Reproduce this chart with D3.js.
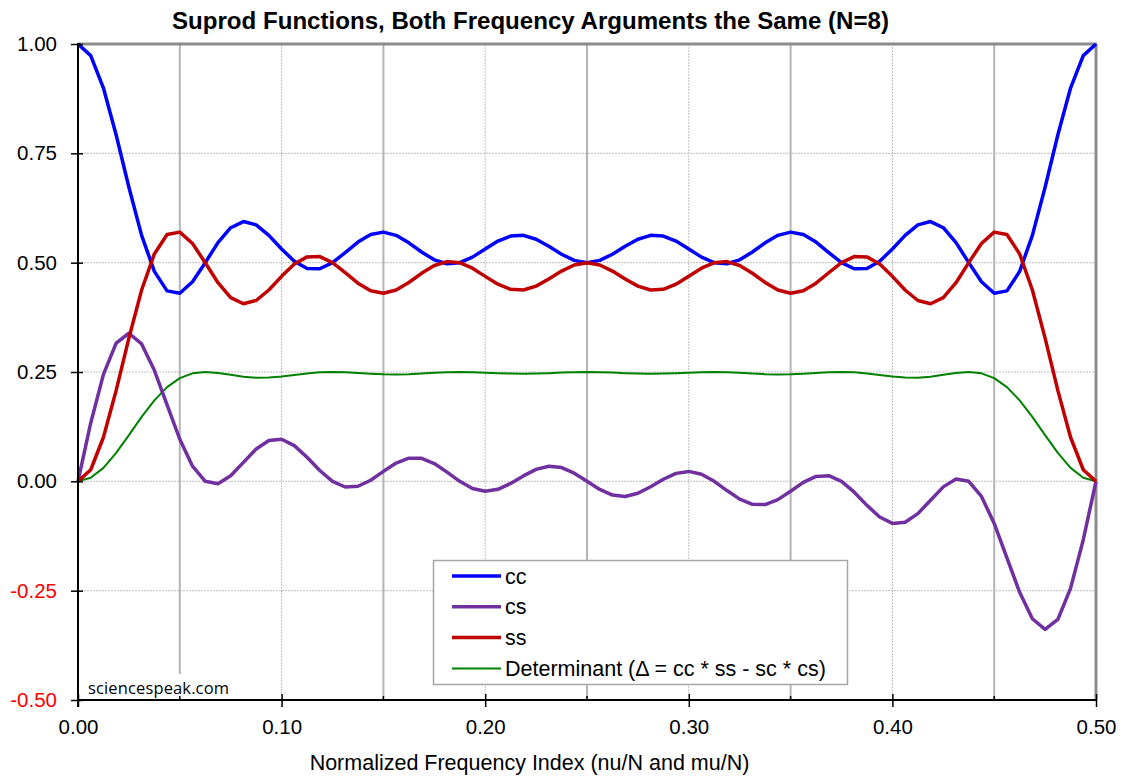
<!DOCTYPE html>
<html>
<head>
<meta charset="utf-8">
<script src="https://cdn.jsdelivr.net/npm/d3@7"></script>
<style>
body { margin: 0; background: #fff; }
svg { display: block; font-family: "Liberation Sans", Arial, sans-serif; }
</style>
</head>
<body>
<svg width="1124" height="780"></svg>
<script>
// normalized frequency index (nu/N), one point every 1/160
var freq = [0, 0.00625, 0.0125, 0.01875, 0.025, 0.03125, 0.0375, 0.04375, 0.05, 0.05625,
            0.0625, 0.06875, 0.075, 0.08125, 0.0875, 0.09375, 0.1, 0.10625, 0.1125, 0.11875,
            0.125, 0.13125, 0.1375, 0.14375, 0.15, 0.15625, 0.1625, 0.16875, 0.175, 0.18125,
            0.1875, 0.19375, 0.2, 0.20625, 0.2125, 0.21875, 0.225, 0.23125, 0.2375, 0.24375,
            0.25, 0.25625, 0.2625, 0.26875, 0.275, 0.28125, 0.2875, 0.29375, 0.3, 0.30625,
            0.3125, 0.31875, 0.325, 0.33125, 0.3375, 0.34375, 0.35, 0.35625, 0.3625, 0.36875,
            0.375, 0.38125, 0.3875, 0.39375, 0.4, 0.40625, 0.4125, 0.41875, 0.425, 0.43125,
            0.4375, 0.44375, 0.45, 0.45625, 0.4625, 0.46875, 0.475, 0.48125, 0.4875, 0.49375, 0.5]

var cc = [1.0000, 0.9735, 0.8992, 0.7920, 0.6725, 0.5625, 0.4800, 0.4355, 0.4301, 0.4562,
          0.5000, 0.5458, 0.5799, 0.5940, 0.5865, 0.5625, 0.5313, 0.5032, 0.4868, 0.4861,
          0.5000, 0.5230, 0.5470, 0.5643, 0.5699, 0.5625, 0.5453, 0.5243, 0.5065, 0.4975,
          0.5000, 0.5127, 0.5313, 0.5493, 0.5609, 0.5625, 0.5536, 0.5374, 0.5193, 0.5053,
          0.5000, 0.5053, 0.5193, 0.5374, 0.5536, 0.5625, 0.5609, 0.5493, 0.5313, 0.5127,
          0.5000, 0.4975, 0.5065, 0.5243, 0.5453, 0.5625, 0.5699, 0.5643, 0.5470, 0.5230,
          0.5000, 0.4861, 0.4868, 0.5032, 0.5313, 0.5625, 0.5865, 0.5940, 0.5799, 0.5458,
          0.5000, 0.4562, 0.4301, 0.4355, 0.4800, 0.5625, 0.6725, 0.7920, 0.8992, 0.9735, 1.0000]

var cs = [0.0000, 0.1335, 0.2447, 0.3159, 0.3386, 0.3142, 0.2538, 0.1748, 0.0962, 0.0346,
          0.0000, -0.0054, 0.0127, 0.0433, 0.0739, 0.0935, 0.0962, 0.0816, 0.0550, 0.0248,
          0.0000, -0.0129, -0.0113, 0.0025, 0.0227, 0.0418, 0.0530, 0.0526, 0.0407, 0.0211,
          0.0000, -0.0162, -0.0227, -0.0182, -0.0048, 0.0124, 0.0273, 0.0346, 0.0314, 0.0186,
          0.0000, -0.0186, -0.0314, -0.0346, -0.0273, -0.0124, 0.0048, 0.0182, 0.0227, 0.0162,
          0.0000, -0.0211, -0.0407, -0.0526, -0.0530, -0.0418, -0.0227, -0.0025, 0.0113, 0.0129,
          0.0000, -0.0248, -0.0550, -0.0816, -0.0962, -0.0935, -0.0739, -0.0433, -0.0127, 0.0054,
          0.0000, -0.0346, -0.0962, -0.1748, -0.2538, -0.3142, -0.3386, -0.3159, -0.2447, -0.1335, 0.0000]

var ss = [0.0000, 0.0265, 0.1008, 0.2080, 0.3275, 0.4375, 0.5200, 0.5645, 0.5699, 0.5438,
          0.5000, 0.4542, 0.4201, 0.4060, 0.4135, 0.4375, 0.4687, 0.4968, 0.5132, 0.5139,
          0.5000, 0.4770, 0.4530, 0.4357, 0.4301, 0.4375, 0.4547, 0.4757, 0.4935, 0.5025,
          0.5000, 0.4873, 0.4687, 0.4507, 0.4391, 0.4375, 0.4464, 0.4626, 0.4807, 0.4947,
          0.5000, 0.4947, 0.4807, 0.4626, 0.4464, 0.4375, 0.4391, 0.4507, 0.4687, 0.4873,
          0.5000, 0.5025, 0.4935, 0.4757, 0.4547, 0.4375, 0.4301, 0.4357, 0.4530, 0.4770,
          0.5000, 0.5139, 0.5132, 0.4968, 0.4687, 0.4375, 0.4135, 0.4060, 0.4201, 0.4542,
          0.5000, 0.5438, 0.5699, 0.5645, 0.5200, 0.4375, 0.3275, 0.2080, 0.1008, 0.0265, 0.0000]

var det = [0.0000, 0.0080, 0.0308, 0.0649, 0.1056, 0.1474, 0.1852, 0.2153, 0.2359, 0.2469,
           0.2500, 0.2479, 0.2435, 0.2393, 0.2371, 0.2373, 0.2398, 0.2433, 0.2468, 0.2492,
           0.2500, 0.2493, 0.2477, 0.2459, 0.2446, 0.2444, 0.2451, 0.2466, 0.2483, 0.2495,
           0.2500, 0.2496, 0.2485, 0.2472, 0.2463, 0.2459, 0.2464, 0.2474, 0.2486, 0.2496,
           0.2500, 0.2496, 0.2486, 0.2474, 0.2464, 0.2459, 0.2463, 0.2472, 0.2485, 0.2496,
           0.2500, 0.2495, 0.2483, 0.2466, 0.2451, 0.2444, 0.2446, 0.2459, 0.2477, 0.2493,
           0.2500, 0.2492, 0.2468, 0.2433, 0.2398, 0.2373, 0.2371, 0.2393, 0.2435, 0.2479,
           0.2500, 0.2469, 0.2359, 0.2153, 0.1852, 0.1474, 0.1056, 0.0649, 0.0308, 0.0080, 0.0000]

var series_names = ["cc", "cs", "ss", "Determinant (\u0394 = cc * ss - sc * cs)"]
var y_ticks = [-0.5, -0.25, 0, 0.25, 0.5, 0.75, 1]
var x_ticks = [0, 0.1, 0.2, 0.3, 0.4, 0.5]
var x_mid_ticks = [0.05, 0.15, 0.25, 0.35, 0.45]

var title = "Suprod Functions, Both Frequency Arguments the Same (N=8)"
var x_title = "Normalized Frequency Index (nu/N and mu/N)"
var credit = "sciencespeak.com"

/*********
* layout *
*********/
var plot_left = 78, plot_right = 1096, plot_top = 44, plot_bottom = 700

var x = d3.scaleLinear().domain([0, 0.5]).range([plot_left, plot_right])
var y = d3.scaleLinear().domain([-0.5, 1]).range([plot_bottom, plot_top])

var styles = [{color: "#0000ff", width: 3.5},
              {color: "#7030a0", width: 3.5},
              {color: "#c00000", width: 3.5},
              {color: "#008000", width: 2}]

var svg = d3.select("svg")

// excel style labels, plain hyphen for negatives
function fmt(v){
  return v.toFixed(2)
}

function display_grid(){
  var g = svg.append("g").attr("class", "grid")

  g.selectAll(".hgrid")
    .data(y_ticks.filter(function(v){ return v > -0.5 && v < 1 }))
    .enter()
    .append("line")
    .attr("class", "hgrid")
    .attr("x1", plot_left).attr("x2", plot_right)
    .attr("y1", function(v){ return y(v) }).attr("y2", function(v){ return y(v) })
    .attr("stroke", "#bfbfbf")
    .attr("stroke-width", 1)
    .attr("stroke-dasharray", "2,1")

  g.selectAll(".vgrid")
    .data(x_ticks.filter(function(v){ return v > 0 && v < 0.5 }))
    .enter()
    .append("line")
    .attr("class", "vgrid")
    .attr("x1", function(v){ return x(v) }).attr("x2", function(v){ return x(v) })
    .attr("y1", plot_top).attr("y2", plot_bottom)
    .attr("stroke", "#bfbfbf")
    .attr("stroke-width", 1)
    .attr("stroke-dasharray", "2,1")

  g.selectAll(".vmid")
    .data(x_mid_ticks)
    .enter()
    .append("line")
    .attr("class", "vmid")
    .attr("x1", function(v){ return x(v) }).attr("x2", function(v){ return x(v) })
    .attr("y1", plot_top).attr("y2", plot_bottom)
    .attr("stroke", "#b4b4b4")
    .attr("stroke-width", 2)

  // frame top and right
  g.append("line")
    .attr("x1", plot_left).attr("x2", plot_right + 1)
    .attr("y1", plot_top).attr("y2", plot_top)
    .attr("stroke", "#8c8c8c").attr("stroke-width", 3)
  g.append("line")
    .attr("x1", plot_right).attr("x2", plot_right)
    .attr("y1", plot_top).attr("y2", plot_bottom)
    .attr("stroke", "#8c8c8c").attr("stroke-width", 3)
}

function display_credit(){
  svg.append("rect")
    .attr("x", 84).attr("y", 674)
    .attr("width", 150).attr("height", 25)
    .attr("fill", "#fff")
  svg.append("text")
    .text(credit)
    .attr("x", 88).attr("y", 694)
    .attr("font-family", "'Open Sans', 'Noto Sans', sans-serif")
    .attr("font-size", 16.5)
    .attr("textLength", 141)
    .attr("fill", "#000")
}

function display_axes(){
  var ya = svg.append("g")
    .attr("transform", "translate(" + plot_left + ",0)")
    .call(d3.axisLeft(y).tickValues(y_ticks).tickFormat(fmt).tickSize(7).tickPadding(14))
  ya.select(".domain").remove()
  ya.selectAll(".tick line").attr("x2", -7).attr("x1", 5).attr("stroke", "#000").attr("stroke-width", 1.5)
  ya.selectAll(".tick text")
    .attr("font-size", 20.5)
    .attr("font-family", "'Liberation Sans', Arial, sans-serif")
    .attr("fill", function(v){ return v < 0 ? "#ff0000" : "#000" })

  var xa = svg.append("g")
    .attr("transform", "translate(0," + plot_bottom + ")")
    .call(d3.axisBottom(x).tickValues(x_ticks).tickFormat(fmt).tickSize(7).tickPadding(12))
  xa.select(".domain").remove()
  xa.selectAll(".tick line").attr("y1", -6).attr("y2", 7).attr("stroke", "#000").attr("stroke-width", 1.5)
  xa.selectAll(".tick text")
    .attr("font-size", 20.5)
    .attr("font-family", "'Liberation Sans', Arial, sans-serif")
    .attr("fill", "#000")

  svg.selectAll(".xminor")
    .data(x_mid_ticks)
    .enter()
    .append("line")
    .attr("class", "xminor")
    .attr("x1", function(v){ return x(v) }).attr("x2", function(v){ return x(v) })
    .attr("y1", plot_bottom - 4).attr("y2", plot_bottom)
    .attr("stroke", "#000").attr("stroke-width", 1.5)

  // axis lines
  svg.append("line")
    .attr("x1", plot_left).attr("x2", plot_left)
    .attr("y1", plot_top - 1).attr("y2", plot_bottom + 7)
    .attr("stroke", "#000").attr("stroke-width", 2)
  svg.append("line")
    .attr("x1", plot_left - 1).attr("x2", plot_right + 1)
    .attr("y1", plot_bottom).attr("y2", plot_bottom)
    .attr("stroke", "#000").attr("stroke-width", 2)
}

function display_series(){
  var line = d3.line()
    .x(function(d, i){ return x(freq[i]) })
    .y(function(d){ return y(d) })

  var all = [cc, cs, ss, det]
  var order = [3, 0, 1, 2]
  for (var k of order){
    svg.append("path")
      .datum(all[k])
      .attr("class", "series")
      .attr("fill", "none")
      .attr("stroke", styles[k].color)
      .attr("stroke-width", styles[k].width)
      .attr("stroke-linejoin", "round")
      .attr("d", line)
  }
}

function display_legend(){
  var lg = svg.append("g").attr("class", "legend")
  lg.append("rect")
    .attr("x", 433.5).attr("y", 560.5)
    .attr("width", 414).attr("height", 124)
    .attr("fill", "#fff")
    .attr("stroke", "#a6a6a6")
    .attr("stroke-width", 1.5)

  var row = lg.selectAll(".row")
    .data(series_names)
    .enter()
    .append("g")
    .attr("class", "row")
    .attr("transform", function(d, i){ return "translate(0," + (576 + i * 30.8) + ")" })

  row.append("line")
    .attr("x1", 452).attr("x2", 501)
    .attr("y1", 0).attr("y2", 0)
    .attr("stroke", function(d, i){ return styles[i].color })
    .attr("stroke-width", function(d, i){ return styles[i].width })

  row.append("text")
    .text(function(d){ return d })
    .attr("x", 505)
    .attr("y", 7.5)
    .attr("font-size", 21.5)
    .attr("fill", "#000")
}

function display_titles(){
  svg.append("text")
    .text(title)
    .attr("x", 530.5)
    .attr("y", 29)
    .attr("text-anchor", "middle")
    .attr("font-size", 23.5)
    .attr("font-weight", "bold")
    .attr("textLength", 717)
    .attr("lengthAdjust", "spacingAndGlyphs")
    .attr("fill", "#000")

  svg.append("text")
    .text(x_title)
    .attr("x", 529.5)
    .attr("y", 770)
    .attr("text-anchor", "middle")
    .attr("font-size", 21.5)
    .attr("fill", "#000")
}

display_grid()
display_credit()
display_series()
display_axes()
display_legend()
display_titles()
</script>
</body>
</html>
